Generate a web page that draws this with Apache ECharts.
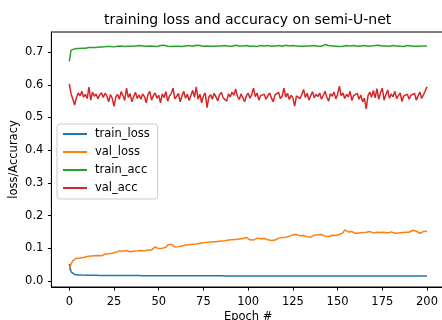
<!DOCTYPE html>
<html><head><meta charset="utf-8">
<script src="https://cdn.jsdelivr.net/npm/echarts@6/dist/echarts.min.js"></script>
<style>html,body{margin:0;padding:0;background:#fff}#c{width:442px;height:320px}</style>
</head><body><div id="c"></div>
<script>
const titleText = 'training loss and accuracy on semi-U-net';
const xName = 'Epoch #';
const yName = 'loss/Accuracy';
const xTicks = [0,25,50,75,100,125,150,175,200];
const yTicks = [0.0,0.1,0.2,0.3,0.4,0.5,0.6,0.7];
const seriesNames = ['train_loss','val_loss','train_acc','val_acc'];

const trainLoss = [
0.052,0.028,0.022,0.02,0.019,0.0185,0.018,0.018,0.0178,0.0176,
0.0175,0.0174,0.0173,0.0172,0.0172,0.0171,0.017,0.017,0.0169,0.0169,
0.0168,0.0168,0.0167,0.0167,0.0167,0.0166,0.0166,0.0166,0.0165,0.0165,
0.0165,0.0165,0.0164,0.0164,0.0164,0.0164,0.0163,0.0163,0.0163,0.0163,
0.0163,0.0162,0.0162,0.0162,0.0162,0.0162,0.0161,0.0161,0.0161,0.0161,
0.0161,0.016,0.016,0.016,0.016,0.016,0.016,0.0159,0.0159,0.0159,
0.0159,0.0159,0.0159,0.0158,0.0158,0.0158,0.0158,0.0158,0.0158,0.0158,
0.0157,0.0157,0.0157,0.0157,0.0157,0.0157,0.0157,0.0157,0.0156,0.0156,
0.0156,0.0156,0.0156,0.0156,0.0156,0.0156,0.0156,0.0155,0.0155,0.0155,
0.0155,0.0155,0.0155,0.0155,0.0155,0.0155,0.0155,0.0154,0.0154,0.0154,
0.0154,0.0154,0.0154,0.0154,0.0154,0.0154,0.0154,0.0154,0.0154,0.0154,
0.0154,0.0154,0.0153,0.0153,0.0153,0.0153,0.0153,0.0153,0.0153,0.0153,
0.0153,0.0153,0.0153,0.0153,0.0153,0.0153,0.0153,0.0153,0.0153,0.0153,
0.0153,0.0153,0.0152,0.0152,0.0152,0.0152,0.0152,0.0152,0.0152,0.0152,
0.0152,0.0152,0.0152,0.0152,0.0152,0.0152,0.0152,0.0152,0.0152,0.0152,
0.0152,0.0152,0.0152,0.0152,0.0152,0.0151,0.0151,0.0151,0.0151,0.0151,
0.0151,0.0151,0.0151,0.0151,0.0151,0.0151,0.0151,0.0151,0.0151,0.0151,
0.0151,0.0151,0.0151,0.0151,0.0151,0.0151,0.0151,0.0151,0.0151,0.0151,
0.0151,0.0151,0.015,0.015,0.015,0.015,0.015,0.015,0.015,0.015,
0.015,0.015,0.015,0.015,0.015,0.015,0.015,0.015,0.015,0.015,
0.015];

const valLoss = [
0.034,0.052,0.062,0.066,0.069,0.071,0.07,0.073,0.072,0.074,
0.075,0.074,0.076,0.075,0.077,0.076,0.078,0.079,0.077,0.08,
0.082,0.085,0.083,0.087,0.085,0.09,0.088,0.091,0.092,0.089,
0.091,0.09,0.093,0.09,0.089,0.092,0.091,0.09,0.092,0.094,
0.093,0.095,0.092,0.096,0.095,0.097,0.095,0.099,0.104,0.1,
0.099,0.102,0.1,0.105,0.103,0.11,0.108,0.112,0.106,0.104,
0.103,0.105,0.104,0.107,0.106,0.11,0.108,0.111,0.109,0.112,
0.111,0.113,0.112,0.115,0.113,0.117,0.114,0.118,0.116,0.119,
0.118,0.12,0.117,0.121,0.123,0.122,0.126,0.123,0.121,0.125,
0.124,0.126,0.123,0.127,0.125,0.128,0.126,0.13,0.127,0.133,
0.129,0.126,0.13,0.125,0.128,0.131,0.127,0.129,0.126,0.13,
0.128,0.126,0.13,0.124,0.127,0.125,0.129,0.131,0.134,0.133,
0.136,0.134,0.138,0.137,0.14,0.141,0.139,0.142,0.14,0.138,
0.141,0.139,0.137,0.135,0.131,0.134,0.138,0.14,0.137,0.141,
0.139,0.142,0.14,0.137,0.139,0.136,0.138,0.14,0.137,0.139,
0.145,0.142,0.138,0.147,0.156,0.152,0.15,0.149,0.151,0.148,
0.146,0.149,0.147,0.15,0.148,0.146,0.149,0.147,0.151,0.148,
0.147,0.145,0.149,0.151,0.148,0.146,0.149,0.152,0.147,0.151,
0.15,0.148,0.146,0.149,0.147,0.145,0.148,0.151,0.149,0.146,
0.149,0.152,0.155,0.158,0.152,0.149,0.146,0.148,0.151,0.149,
0.152];

const trainAcc = [
0.672,0.706,0.709,0.71,0.711,0.711,0.712,0.712,0.713,0.712,
0.713,0.714,0.713,0.714,0.715,0.714,0.715,0.716,0.715,0.716,
0.715,0.717,0.716,0.717,0.718,0.716,0.717,0.718,0.717,0.719,
0.718,0.717,0.719,0.718,0.72,0.718,0.717,0.719,0.718,0.72,
0.718,0.719,0.721,0.718,0.717,0.719,0.72,0.718,0.719,0.717,
0.719,0.72,0.718,0.721,0.719,0.718,0.72,0.717,0.719,0.718,
0.72,0.718,0.719,0.717,0.72,0.719,0.718,0.72,0.719,0.718,
0.719,0.721,0.718,0.72,0.719,0.718,0.717,0.719,0.72,0.718,
0.719,0.718,0.72,0.719,0.717,0.719,0.718,0.72,0.719,0.718,
0.72,0.718,0.719,0.721,0.718,0.719,0.717,0.719,0.718,0.72,
0.719,0.718,0.72,0.718,0.719,0.717,0.719,0.72,0.718,0.719,
0.718,0.72,0.719,0.718,0.717,0.719,0.718,0.72,0.719,0.718,
0.719,0.721,0.718,0.719,0.717,0.72,0.718,0.719,0.72,0.718,
0.719,0.718,0.72,0.719,0.717,0.719,0.718,0.72,0.721,0.718,
0.719,0.718,0.72,0.723,0.726,0.72,0.718,0.719,0.72,0.718,
0.719,0.717,0.72,0.718,0.719,0.72,0.718,0.719,0.717,0.72,
0.719,0.718,0.72,0.719,0.718,0.72,0.719,0.718,0.72,0.719,
0.718,0.72,0.719,0.721,0.718,0.719,0.717,0.719,0.72,0.718,
0.719,0.72,0.718,0.719,0.72,0.718,0.719,0.717,0.719,0.72,
0.718,0.719,0.72,0.718,0.719,0.718,0.72,0.719,0.718,0.719,
0.719];

const valAcc = [
0.603,0.572,0.556,0.538,0.561,0.575,0.566,0.58,0.562,0.571,
0.558,0.593,0.553,0.578,0.565,0.572,0.557,0.569,0.576,0.561,
0.574,0.566,0.548,0.57,0.559,0.534,0.562,0.571,0.556,0.579,
0.567,0.552,0.59,0.561,0.573,0.548,0.564,0.577,0.558,0.569,
0.556,0.572,0.564,0.545,0.57,0.58,0.553,0.566,0.575,0.559,
0.568,0.545,0.572,0.561,0.579,0.55,0.566,0.573,0.59,0.557,
0.564,0.574,0.548,0.566,0.58,0.559,0.571,0.552,0.568,0.583,
0.562,0.594,0.556,0.571,0.545,0.566,0.575,0.53,0.562,0.57,
0.556,0.574,0.563,0.551,0.569,0.577,0.56,0.566,0.55,0.572,
0.563,0.578,0.568,0.587,0.565,0.555,0.572,0.561,0.548,0.566,
0.574,0.559,0.57,0.59,0.564,0.575,0.553,0.567,0.561,0.571,
0.556,0.566,0.575,0.56,0.548,0.569,0.563,0.577,0.558,0.565,
0.59,0.562,0.574,0.555,0.568,0.56,0.535,0.566,0.572,0.558,
0.57,0.586,0.561,0.574,0.553,0.567,0.579,0.56,0.571,0.564,
0.575,0.556,0.568,0.58,0.562,0.55,0.573,0.565,0.578,0.557,
0.57,0.596,0.566,0.575,0.558,0.571,0.563,0.58,0.552,0.567,
0.561,0.574,0.556,0.569,0.548,0.559,0.526,0.566,0.578,0.562,
0.583,0.56,0.588,0.556,0.575,0.59,0.553,0.57,0.584,0.559,
0.572,0.563,0.58,0.558,0.567,0.575,0.549,0.566,0.56,0.571,
0.556,0.568,0.562,0.574,0.553,0.566,0.578,0.558,0.569,0.572,
0.594];

const colors = ['#1f77b4','#ff7f0e','#2ca02c','#d62728'];
const allSeries = [trainLoss, valLoss, trainAcc, valAcc];
const FONT = 'DejaVu Sans';

function pairs(arr){ return arr.map((v,i)=>[i,v]); }

const chart = echarts.init(document.getElementById('c'), null, {renderer:'canvas'});
chart.setOption({
  animation:false,
  backgroundColor:'#fff',
  color: colors,
  title:{text:titleText, left:99, top:8,
    textStyle:{fontFamily:FONT,fontSize:14,fontWeight:'normal',color:'#000'}},
  legend:{
    orient:'vertical', left:57, top:124,
    data: seriesNames,
    itemWidth:24, itemHeight:11, itemGap:6,
    padding:[4,8,5,5],
    backgroundColor:'rgba(255,255,255,0.8)',
    borderColor:'#cccccc', borderWidth:1, borderRadius:3,
    itemStyle:{opacity:0},
    textStyle:{fontFamily:FONT,fontSize:11.5,color:'#000',padding:[0,0,0,3]}
  },
  grid:{left:51.4, top:32, width:393.5, height:255, show:true,
    outerBoundsMode:'none',
    borderColor:'#000', borderWidth:1, backgroundColor:'transparent', containLabel:false},
  xAxis:{
    type:'value', min:-10, max:210,
    name:xName, nameLocation:'middle', nameGap:24, nameMoveOverlap:false,
    nameTextStyle:{fontFamily:FONT,fontSize:11.5,color:'#000'},
    axisLine:{show:true,onZero:false,lineStyle:{color:'#000',width:1}},
    axisTick:{show:true,length:3.5,lineStyle:{color:'#000'},customValues:xTicks},
    axisLabel:{fontFamily:FONT,fontSize:11.5,color:'#000',margin:9,customValues:xTicks,
      formatter:v=>String(v)},
    splitLine:{show:false}
  },
  yAxis:{
    type:'value', min:-0.0185, max:0.7615,
    name:yName, nameLocation:'middle', nameGap:31, nameMoveOverlap:false,
    nameTextStyle:{fontFamily:FONT,fontSize:11.5,color:'#000'},
    axisLine:{show:true,onZero:false,lineStyle:{color:'#000',width:1}},
    axisTick:{show:true,length:3.5,lineStyle:{color:'#000'},customValues:yTicks},
    axisLabel:{fontFamily:FONT,fontSize:11.5,color:'#000',margin:8,customValues:yTicks,
      formatter:v=>v.toFixed(1)},
    splitLine:{show:false}
  },
  series: seriesNames.map((n,i)=>({
    name:n, type:'line', data:pairs(allSeries[i]),
    symbol:'none', showSymbol:false,
    lineStyle:{color:colors[i], width:1.5},
    itemStyle:{color:colors[i]}
  }))
});
</script>
</body></html>
